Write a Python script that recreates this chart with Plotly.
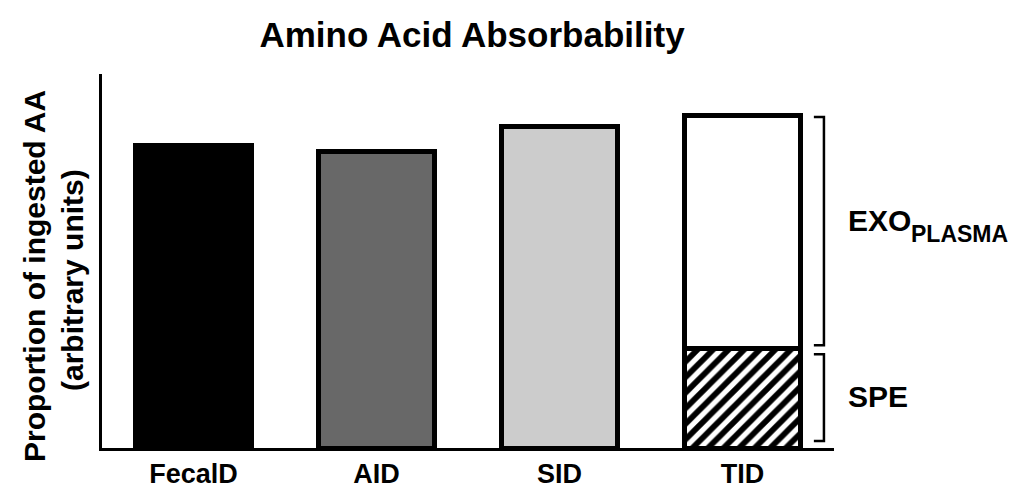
import plotly.graph_objects as go

# ---- data ----
categories = ["FecalD", "AID", "SID", "TID"]
single_values = [80.9, 79.3, 86.0]          # FecalD, AID, SID
single_colors = ["#000000", "#686868", "#cccccc"]
tid_spe = 26.5                               # SPE portion of TID
tid_exo = 62.4                               # EXO_PLASMA portion of TID
title_text = "Amino Acid Absorbability"
ytitle_line1 = "Proportion of ingested AA"
ytitle_line2 = "(arbitrary units)"

FONT = "Liberation Sans, Arial, sans-serif"
W, H = 1024, 491
L, R, T, B = 102, 190, 74, 43
PW, PH = W - L - R, H - T - B


def px_to_paper_x(px):
    return (px - L) / PW


def px_to_paper_y(py):
    return (H - B - py) / PH


fig = go.Figure()

fig.add_trace(go.Bar(
    x=categories[:3], y=single_values,
    marker=dict(color=single_colors, line=dict(color="black", width=5)),
    width=0.63, showlegend=False, hoverinfo="x+y",
))
fig.add_trace(go.Bar(
    x=[categories[3]], y=[tid_spe],
    marker=dict(color="white", line=dict(color="black", width=5),
                pattern=dict(shape="/", fgcolor="black", bgcolor="white", fgopacity=1,
                             size=11, solidity=0.52, fillmode="overlay")),
    width=0.63, showlegend=False, name="SPE",
))
fig.add_trace(go.Bar(
    x=[categories[3]], y=[tid_exo],
    marker=dict(color="white", line=dict(color="black", width=5)),
    width=0.63, showlegend=False, name="EXO",
))

tid_total = tid_spe + tid_exo
bx = 3.445   # bracket spine x (data units)
bt = 3.39    # bracket tick end
up_top, up_bot = tid_total - 0.4, tid_spe + 1.0
lo_top, lo_bot = tid_spe - 1.4, 1.9
for (y0, y1) in [(up_top, up_bot), (lo_top, lo_bot)]:
    fig.add_shape(type="path", xref="x", yref="y",
                  path=f"M {bt},{y0} L {bx},{y0} L {bx},{y1} L {bt},{y1}",
                  line=dict(color="black", width=2.5))

# right-hand labels (paper coords, outside the plot area)
fig.add_annotation(x=px_to_paper_x(846), y=px_to_paper_y(220), xref="paper", yref="paper",
                   text="<b>EXO</b>", showarrow=False, xanchor="left", yanchor="middle",
                   font=dict(family=FONT, size=30, color="black"))
fig.add_annotation(x=px_to_paper_x(909), y=px_to_paper_y(234), xref="paper", yref="paper",
                   text="<b>PLASMA</b>", showarrow=False, xanchor="left", yanchor="middle",
                   font=dict(family=FONT, size=23, color="black"))
fig.add_annotation(x=px_to_paper_x(846), y=px_to_paper_y(396), xref="paper", yref="paper",
                   text="<b>SPE</b>", showarrow=False, xanchor="left", yanchor="middle",
                   font=dict(family=FONT, size=30, color="black"))

# y-axis title as two rotated lines
fig.add_annotation(x=px_to_paper_x(34), y=px_to_paper_y(276), xref="paper", yref="paper",
                   text="<b>" + ytitle_line1 + "</b>", textangle=-90, showarrow=False,
                   xanchor="center", yanchor="middle",
                   font=dict(family=FONT, size=30, color="black"))
fig.add_annotation(x=px_to_paper_x(72), y=px_to_paper_y(280), xref="paper", yref="paper",
                   text="<b>" + ytitle_line2 + "</b>", textangle=-90, showarrow=False,
                   xanchor="center", yanchor="middle",
                   font=dict(family=FONT, size=30, color="black"))

fig.update_layout(
    width=W, height=H,
    margin=dict(l=L, r=R, t=T, b=B, pad=0, autoexpand=False),
    paper_bgcolor="white", plot_bgcolor="white",
    barmode="stack",
    title=dict(text="<b>" + title_text + "</b>", x=px_to_paper_x(472), xref="paper",
               xanchor="center", y=1 - 35 / H, yref="container", yanchor="middle",
               font=dict(family=FONT, size=35, color="black")),
    xaxis=dict(range=[-0.5, 3.5], showline=True, linecolor="black", linewidth=3,
               ticks="", ticklen=0, showgrid=False, zeroline=False, automargin=False,
               tickfont=dict(family=FONT, size=27, color="black", weight="bold"),
               categoryorder="array", categoryarray=categories, fixedrange=True),
    yaxis=dict(range=[0, 100], showline=True, linecolor="black", linewidth=3,
               ticks="", showticklabels=False, showgrid=False, zeroline=False,
               automargin=False, fixedrange=True),
)

fig.write_html("out.html", config={"displayModeBar": False})
